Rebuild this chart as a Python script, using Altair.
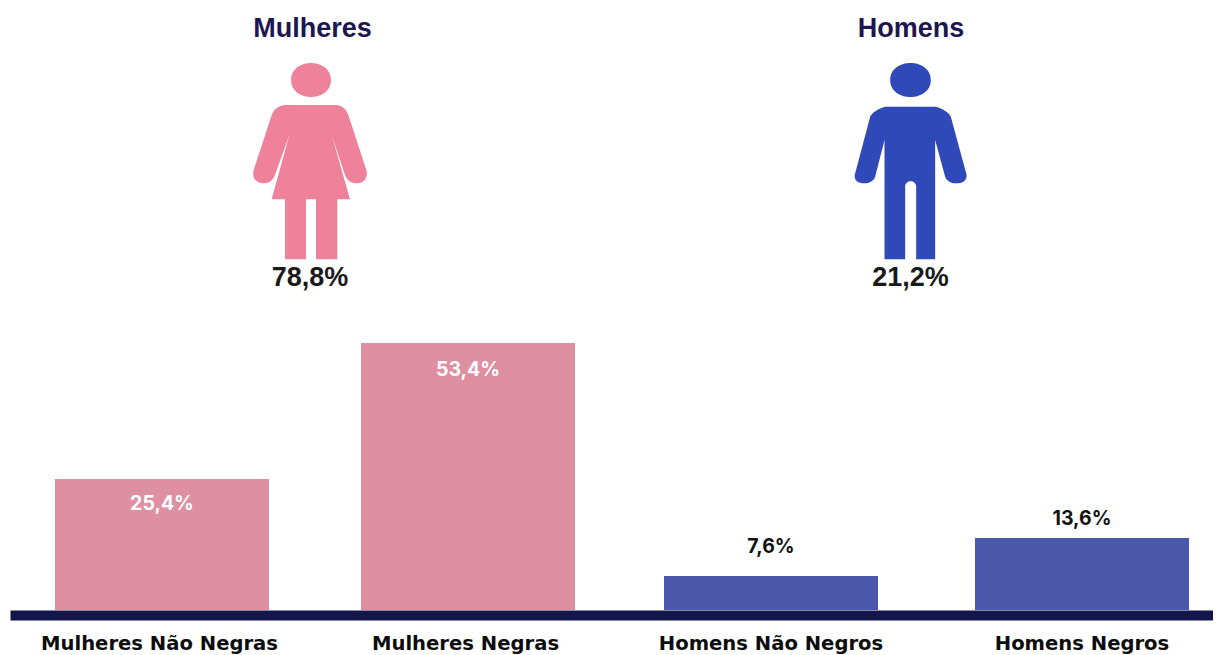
import json
import altair as alt
import pandas as pd

categories = ["Mulheres Não Negras", "Mulheres Negras", "Homens Não Negros", "Homens Negros"]
groups = ["Mulheres", "Mulheres", "Homens", "Homens"]
bar_heights = [26.2, 53.4, 6.8, 14.4]
bar_labels = ["25,4%", "53,4%", "7,6%", "13,6%"]
label_colors = ["#ffffff", "#ffffff", "#111111", "#111111"]
label_dy = [25, 27, -29, -19]
slots = [0, 1, 2, 3]

icon_titles = ["Mulheres", "Homens"]
icon_totals = ["78,8%", "21,2%"]
icon_colors = ["#ee829a", "#3049b8"]

HEAD = "M{l} {c}C{l} {t} {r} {t} {r} {c}C{r} {b} {l} {b} {l} {c}Z"
WOMAN = (
    HEAD.format(l=-60, r=60, c=-210, t=-278, b=-142)
    + "M-78 -135L77 -135C95 -133 107 -120 112 -105L166 60C172 82 160 98 140 100C122 101 108 92 102 75"
    + "L62 -45L117 148L79 148L79 328L15 328L15 148L-15 148L-15 328L-78 328L-78 148L-118 148L-65 -45"
    + "L-108 75C-114 92 -128 101 -146 100C-166 98 -178 82 -172 60L-118 -105C-112 -120 -100 -133 -78 -135Z"
)
MAN = (
    HEAD.format(l=-61, r=61, c=-210, t=-278, b=-142)
    + "M-76 -130L76 -130C96 -125 116 -112 121 -100L167 70C172 88 160 100 137 100C120 100 108 92 104 80"
    + "L74 -30L74 328L17 328L17 110C17 88 -16 88 -16 110L-16 328L-78 328L-78 -30L-106 80"
    + "C-110 92 -122 100 -139 100C-160 100 -172 88 -166 70L-121 -100C-116 -112 -96 -125 -76 -130Z"
)
icon_paths = [WOMAN, MAN]

df = pd.DataFrame({
    "slot": slots, "cat": categories, "group": groups,
    "h": bar_heights, "label": bar_labels,
})

x_scale = alt.Scale(domain=[-0.497, 0, 1, 2, 3, 3.42], range=[2, 154, 460, 763, 1074, 1205], nice=False, zero=False)
y_scale = alt.Scale(domain=[0, 120.4], nice=False, zero=True)
label_expr = json.dumps(categories, ensure_ascii=False) + "[datum.value]"
x_axis = alt.Axis(
    values=slots, labelExpr=label_expr, ticks=False, grid=False, domainWidth=10,
    domainColor="#12164a", offset=5, labelFont="DejaVu Sans", labelFontSize=19.6, labelFontWeight="bold",
    labelColor="#0d0d0d", labelPadding=19, labelOverlap=False, labelFlush=False, labelBound=False,
    labelLimit=500, title=None,
    labelOffset=alt.condition("datum.value < 2", alt.value(-3), alt.value(-0.5)))

bars = alt.Chart(df).mark_bar(size=214, orient="vertical").encode(
    x=alt.X("slot:Q", scale=x_scale, axis=x_axis),
    y=alt.Y("h:Q", scale=y_scale, axis=None),
    color=alt.Color("group:N", scale=alt.Scale(domain=icon_titles, range=["#de8fa1", "#4a57aa"]), legend=None),
)

layers = [bars]
for i in range(len(categories)):
    layers.append(
        alt.Chart(df.iloc[[i]]).mark_text(
            font="Inter", fontSize=19.5, fontWeight=700, color=label_colors[i], dy=label_dy[i]
        ).encode(
            x=alt.X("slot:Q", scale=x_scale, axis=x_axis),
            y=alt.Y("h:Q", scale=y_scale, axis=None),
            text="label:N",
        )
    )

icon_x = [303, 902.5]
title_x = [304.5, 903]
total_x = [302, 902.5]
for i in range(2):
    d = pd.DataFrame({"t": [icon_titles[i]], "p": [icon_totals[i]]})
    layers.append(alt.Chart(d).mark_point(
        shape=icon_paths[i], size=4 / 9, filled=True, fill=icon_colors[i], opacity=1, strokeWidth=0
    ).encode(x=alt.value(icon_x[i]), y=alt.value(142)))
    layers.append(alt.Chart(d).mark_text(
        font="Liberation Sans", fontSize=27, fontWeight="bold", color="#1e1650"
    ).encode(x=alt.value(title_x[i]), y=alt.value(21), text="t:N"))
    layers.append(alt.Chart(d).mark_text(
        font="Liberation Sans", fontSize=27, fontWeight="bold", color="#1a1a1a"
    ).encode(x=alt.value(total_x[i]), y=alt.value(270), text="p:N"))

chart = alt.layer(*layers).properties(
    width=1205, height=602,
    autosize=alt.AutoSizeParams(type="none"),
    padding={"left": 0, "top": 0, "right": 0, "bottom": 45},
    background="#ffffff",
).configure_view(stroke=None)

chart.save("out.html", embed_options={"renderer": "svg", "actions": False})
